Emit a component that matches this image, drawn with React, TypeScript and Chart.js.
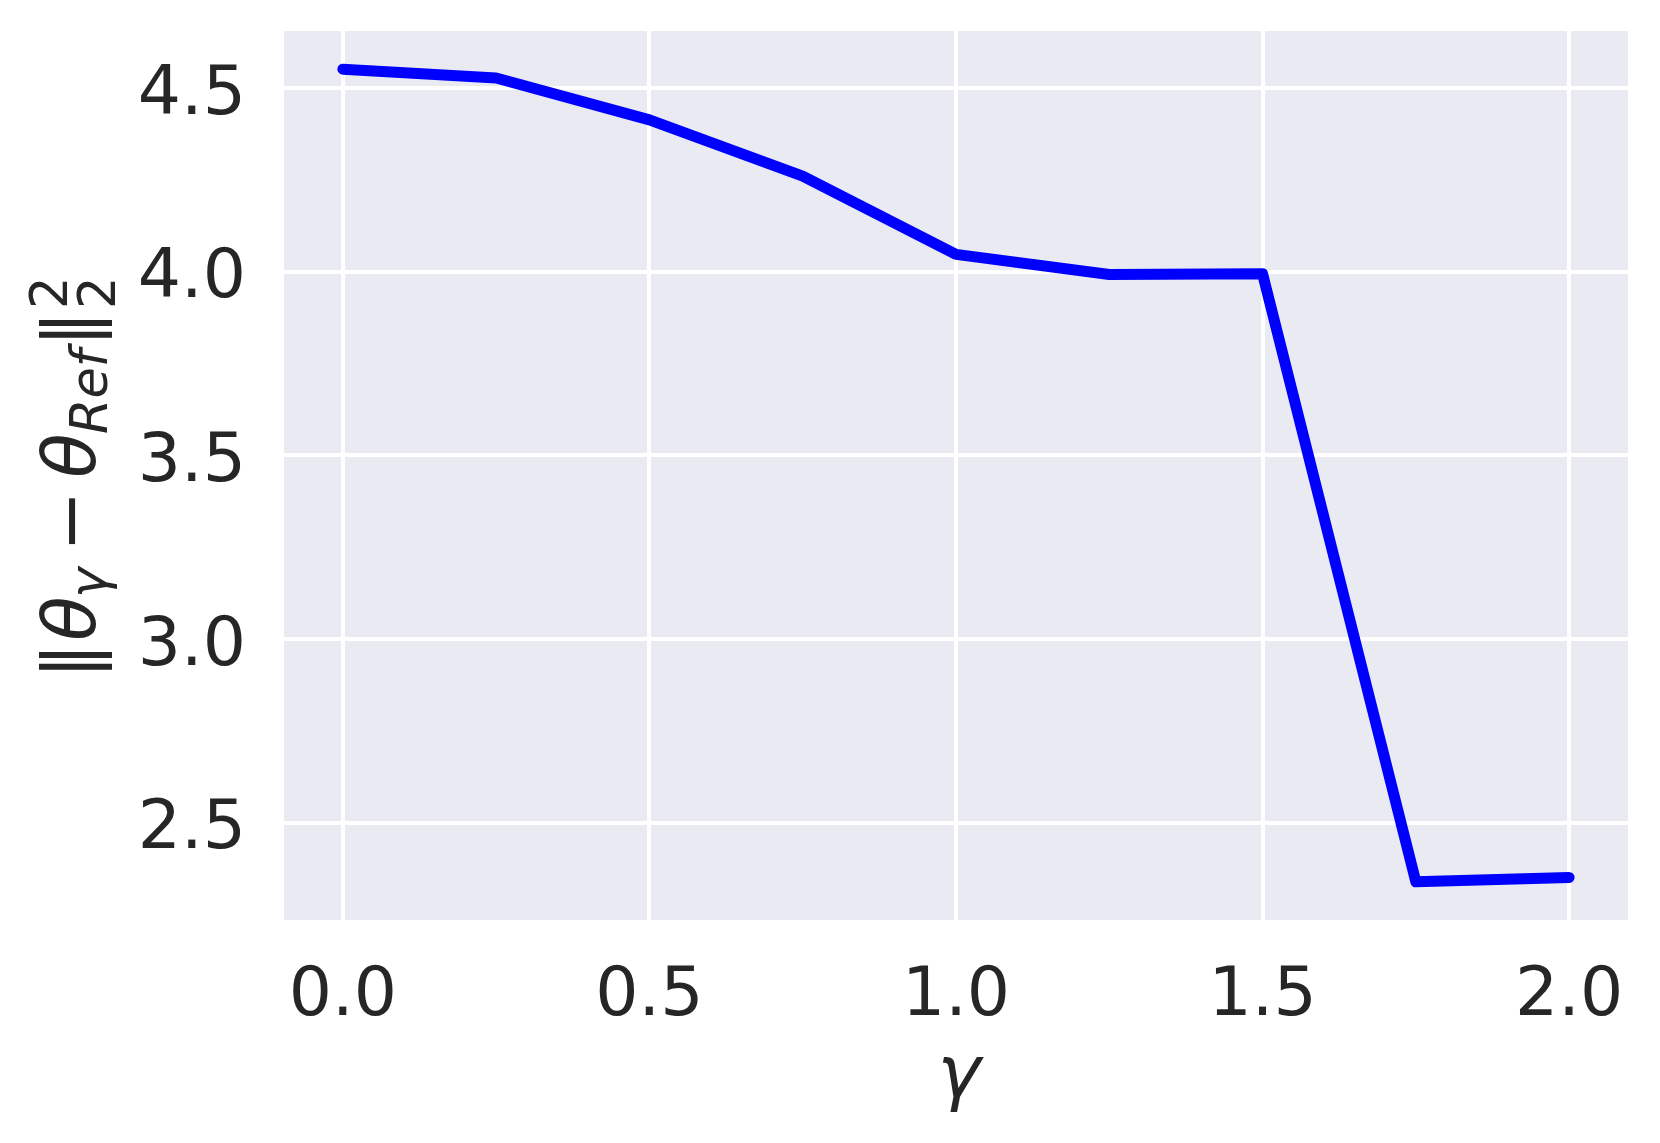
import React, { useEffect, useRef } from 'react';
import { Chart, registerables } from 'chart.js';

Chart.register(...registerables);

// ---- data ----
const gammaValues = [0, 0.25, 0.5, 0.75, 1.0, 1.25, 1.5, 1.75, 2.0];
const distanceValues = [4.551, 4.527, 4.413, 4.26, 4.047, 3.992, 3.994, 2.339, 2.351];
const xTickValues = [0, 0.5, 1.0, 1.5, 2.0];
const yTickValues = [2.5, 3.0, 3.5, 4.0, 4.5];
const xAxisRange = [-0.096, 2.096];
const yAxisRange = [2.235, 4.655];
const xAxisTitle = 'γ';

const TEXT = '#262626';
const FAMILY = '"DejaVu Sans", sans-serif';

// y-axis title pieces: ||θ_γ − θ_Ref||_2^2 (s: position along text, b: baseline shift)
type Run = { t: string; italic: boolean; size: number; s: number; b: number };
const yTitleRuns: Run[] = [
  { t: '|', italic: false, size: 73, s: 0, b: 0 },
  { t: '|', italic: false, size: 73, s: 11.7, b: 0 },
  { t: 'θ', italic: true, size: 73, s: 30, b: 0 },
  { t: 'γ', italic: true, size: 51, s: 75, b: 11 },
  { t: '−', italic: false, size: 73, s: 125, b: 0 },
  { t: 'θ', italic: true, size: 73, s: 193, b: 0 },
  { t: 'Ref', italic: true, size: 51, s: 237, b: 12 },
  { t: '|', italic: false, size: 73, s: 332, b: 0 },
  { t: '|', italic: false, size: 73, s: 343.7, b: 0 },
  { t: '2', italic: false, size: 51, s: 364, b: -28 },
  { t: '2', italic: false, size: 51, s: 364, b: 20 },
];

const bgPlugin = {
  id: 'darkgridBg',
  beforeDraw(chart: any) {
    const { ctx, chartArea } = chart;
    ctx.save();
    ctx.fillStyle = '#EAEAF2';
    ctx.fillRect(chartArea.left, chartArea.top, chartArea.right - chartArea.left, chartArea.bottom - chartArea.top);
    ctx.restore();
  },
};

const titlesPlugin = {
  id: 'axisTitles',
  afterDraw(chart: any) {
    const { ctx, chartArea } = chart;
    const cx = (chartArea.left + chartArea.right) / 2;
    const cy = (chartArea.top + chartArea.bottom) / 2;
    ctx.save();
    ctx.fillStyle = TEXT;
    // x title
    ctx.font = `italic 73px ${FAMILY}`;
    ctx.textAlign = 'center';
    ctx.textBaseline = 'alphabetic';
    ctx.fillText(xAxisTitle, cx + 3, chartArea.bottom + 177);
    // y title (rotated)
    const startY = cy + 194.5;
    const baseX = chartArea.left - 189;
    ctx.translate(baseX, startY);
    ctx.rotate(-Math.PI / 2);
    ctx.textAlign = 'left';
    for (const r of yTitleRuns) {
      ctx.font = `${r.italic ? 'italic ' : ''}${r.size}px ${FAMILY}`;
      const m = ctx.measureText(r.t);
      ctx.fillText(r.t, r.s + m.actualBoundingBoxLeft, r.b);
    }
    ctx.restore();
  },
};

export default function App() {
  const ref = useRef<HTMLCanvasElement>(null);
  useEffect(() => {
    const canvas = ref.current!;
    const chart = new Chart(canvas, {
      type: 'line',
      data: {
        datasets: [
          {
            data: gammaValues.map((g, i) => ({ x: g, y: distanceValues[i] })),
            borderColor: '#0000ff',
            borderWidth: 11,
            pointRadius: 0,
            borderCapStyle: 'round',
            borderJoinStyle: 'round',
            tension: 0,
            fill: false,
          },
        ],
      },
      options: {
        responsive: false,
        animation: false,
        devicePixelRatio: 1,
        layout: { padding: { top: 31, right: 32, bottom: 0, left: 0 } },
        plugins: { legend: { display: false }, tooltip: { enabled: false } },
        scales: {
          x: {
            type: 'linear',
            min: xAxisRange[0],
            max: xAxisRange[1],
            afterBuildTicks: (s: any) => {
              s.ticks = xTickValues.map((v) => ({ value: v }));
            },
            afterFit: (s: any) => {
              s.height = 223;
              s.paddingLeft = 0;
              s.paddingRight = 0;
            },
            grid: { color: '#ffffff', lineWidth: 4, drawTicks: false },
            border: { display: false },
            ticks: {
              font: { family: FAMILY, size: 68 },
              color: TEXT,
              padding: 36.5,
              maxRotation: 0,
              autoSkip: false,
              callback: (v: any) => Number(v).toFixed(1),
            },
          },
          y: {
            type: 'linear',
            min: yAxisRange[0],
            max: yAxisRange[1],
            afterBuildTicks: (s: any) => {
              s.ticks = yTickValues.map((v) => ({ value: v }));
            },
            afterFit: (s: any) => {
              s.width = 284;
              s.paddingTop = 0;
              s.paddingBottom = 0;
            },
            grid: { color: '#ffffff', lineWidth: 4, drawTicks: false },
            border: { display: false },
            ticks: {
              // two-line label (empty first line) nudges the text slightly below the gridline
              font: { family: FAMILY, size: 68, lineHeight: '16px' },
              color: TEXT,
              padding: 38,
              autoSkip: false,
              callback: (v: any) => ['', Number(v).toFixed(1)],
            },
          },
        },
      },
      plugins: [bgPlugin, titlesPlugin],
    } as any);
    return () => chart.destroy();
  }, []);
  return (
    <div style={{ position: 'absolute', left: 0, top: 0, width: 1660, height: 1143, background: '#ffffff' }}>
      <canvas ref={ref} width={1660} height={1143} style={{ display: 'block' }} />
    </div>
  );
}
